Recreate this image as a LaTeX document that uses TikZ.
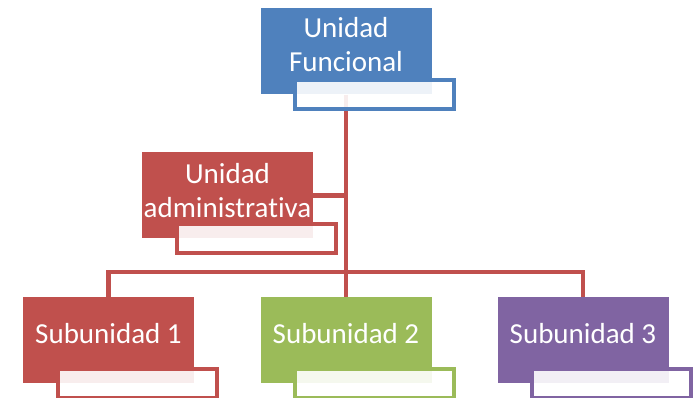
\documentclass[tikz,border=0pt]{standalone}
\usepackage{fontspec}
\setmainfont{Carlito}[Ligatures=NoCommon]
\usetikzlibrary{calc,positioning}
\definecolor{ufblue}{HTML}{4F81BD}
\definecolor{uared}{HTML}{C0504D}
\definecolor{sugreen}{HTML}{9BBB59}
\definecolor{supurple}{HTML}{8064A2}
\pgfdeclarelayer{back}
\pgfsetlayers{back,main}
\tikzstyle{every node}=[font=\fontsize{29}{34}\selectfont]
\tikzstyle{unitbox}=[rectangle,minimum width=171pt,minimum height=86pt,inner sep=0pt]
\tikzstyle{unittext}=[text=white,align=center,yshift=7pt]
\tikzstyle{namebox}=[rectangle,fill=white,fill opacity=0.9,line width=4pt,minimum width=159pt,minimum height=29pt,inner sep=0pt,anchor=north west]
\tikzstyle{link}=[line width=4.5pt,color=uared]

\begin{document}
\begin{tikzpicture}[x=1pt,y=-1pt]
            \useasboundingbox (0,0) rectangle (697,398);
            % unidades
            \node [unitbox,fill=ufblue,label={[unittext]center:{Unidad\\Funcional}}] (uf) at (346,51.5) {};
            \node [unitbox,fill=uared,label={[unittext,yshift=-2pt]center:{Unidad\\administrativa}}] (ua) at (227.5,195.5) {};
            \node [unitbox,fill=uared,label={[unittext]center:Subunidad 1}] (s1) at (108.5,340.5) {};
            \node [unitbox,fill=sugreen,label={[unittext]center:Subunidad 2}] (s2) at (346,340.5) {};
            \node [unitbox,fill=supurple,label={[unittext]center:Subunidad 3}] (s3) at (583,340.5) {};
            % cajas de nombre
            \node [namebox,draw=ufblue] (ufn) at ($(uf.south west)+(33pt,17pt)$) {};
            \node [namebox,draw=uared] (uan) at ($(ua.south west)+(33pt,17pt)$) {};
            \node [namebox,draw=uared] (s1n) at ($(s1.south west)+(33pt,17pt)$) {};
            \node [namebox,draw=sugreen] (s2n) at ($(s2.south west)+(33pt,17pt)$) {};
            \node [namebox,draw=supurple] (s3n) at ($(s3.south west)+(33pt,17pt)$) {};
            % conectores
            \coordinate (bar) at (346,272);
            \begin{pgfonlayer}{back}
            \draw [link] (uf.south) -- (s2.north);
            \draw [link] (s1.north) |- (bar) -| (s3.north);
            \draw [link] (ua.east) -- (ua.east -| uf.south);
            \end{pgfonlayer}
\end{tikzpicture}
\end{document}
